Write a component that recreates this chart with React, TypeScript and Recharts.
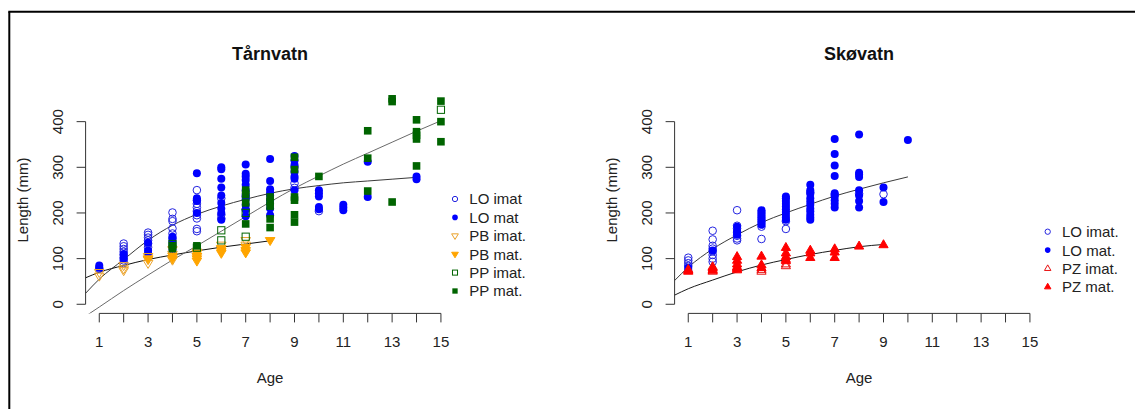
import React from 'react'
import { ComposedChart, Scatter, Line, XAxis, YAxis, ReferenceLine } from 'recharts'

const FONT = '"Liberation Sans", Arial, sans-serif'

const ageTicks = [1, 2, 3, 4, 5, 6, 7, 8, 9, 10, 11, 12, 13, 14, 15]
const lengthTicks = [0, 100, 200, 300, 400]

// Tårnvatn: [age, lengths at that age]
const taLoImat: [number, number[]][] = [
  [1, [78]], [2, [133, 127, 121, 115, 108, 102, 96, 90]], [3, [157, 152, 146, 140, 133, 125]],
  [4, [201, 187, 182, 166, 155, 145]], [5, [250, 228, 220, 212, 204, 195, 188, 165, 160]],
  [6, [232, 196, 188]], [7, [236, 208]], [9, [265, 255]], [10, [204]],
]
const taLoMat: [number, number[]][] = [
  [1, [85, 80]], [2, [110, 100]], [3, [135, 118, 112]], [4, [148, 141, 134, 126, 120]],
  [5, [287, 232, 226, 200]], [6, [300, 296, 275, 256, 238, 222, 210, 200, 185]],
  [7, [306, 286, 280, 272, 262, 250, 240, 230, 218, 207, 193]],
  [8, [318, 270, 252, 245, 238, 228, 220, 210, 195]], [9, [325, 315, 305, 300, 290, 280, 275, 250]],
  [10, [250, 243, 236, 213, 208]], [11, [218, 212, 206]], [12, [312, 235]], [14, [280, 274]],
]
const taPbImat: [number, number[]][] = [
  [1, [70, 62]], [2, [85, 78, 74]], [3, [105, 98, 90]], [4, [120, 110, 97]],
  [5, [115, 105]], [6, [130, 122]], [7, [140, 130]],
]
const taPbMat: [number, number[]][] = [
  [3, [100]], [4, [106, 100]], [5, [112, 106, 100, 95]], [6, [122, 116, 112]], [7, [125, 118, 113]], [8, [140]],
]
const taPpImat: [number, number[]][] = [[4, [132]], [5, [124]], [6, [162, 140]], [7, [200, 148]], [15, [426]]]
const taPpMat: [number, number[]][] = [
  [4, [128, 122]], [5, [128]], [7, [250, 240, 222, 176]], [8, [235, 225, 215, 187, 168]],
  [9, [322, 295, 235, 228, 196, 180]], [10, [280]], [12, [380, 320, 248]], [13, [450, 444, 224]],
  [14, [404, 378, 370, 362, 303]], [15, [445, 400, 356]],
]
const taLoCurve: [number, number][] = [
  [0.44, 24], [1, 55], [2, 98], [3, 140], [4, 173], [5, 197], [6, 215], [7, 230], [8, 243],
  [9, 253], [10, 260], [11, 266], [12, 270], [13, 274], [14, 278],
]
const taPbCurve: [number, number][] = [
  [0.44, 58], [1, 70], [2, 85], [3, 98], [4, 108], [5, 117], [6, 125], [7, 132], [8, 139],
]
const taPpCurve: [number, number][] = [
  [0.44, -26], [1, -6], [2, 30], [3, 64], [4, 97], [5, 128], [6, 160], [7, 192], [8, 224],
  [9, 254], [10, 281], [11, 307], [12, 331], [13, 355], [14, 379], [15, 402],
]

// Skøvatn
const skLoImat: [number, number[]][] = [
  [1, [102, 96, 90, 84]], [2, [161, 142, 128, 122, 116, 108, 100, 93]],
  [3, [206, 172, 166, 158, 150, 144, 140]], [4, [170, 143]], [5, [182, 165]],
  [6, [245]], [7, [240]], [8, [242]], [9, [241]],
]
const skLoMat: [number, number[]][] = [
  [1, [80, 75]], [2, [118]], [3, [170, 160, 152]], [4, [206, 202, 198, 194, 190, 186, 182, 178, 174]],
  [5, [236, 232, 226, 220, 214, 208, 202, 196, 190, 185]],
  [6, [262, 250, 242, 232, 225, 218, 210, 204, 196, 190, 185]],
  [7, [362, 329, 304, 281, 243, 236, 228, 220, 212]], [8, [372, 288, 284, 279, 250, 238, 226, 212]],
  [9, [256, 224]], [10, [360]],
]
const skPzImat: [number, number[]][] = [[1, [76]], [2, [82, 76, 72]], [3, [80]], [4, [76, 72]], [5, [88, 84]]]
const skPzMat: [number, number[]][] = [
  [1, [74, 72]], [2, [80, 74]], [3, [104, 96, 88, 82, 78, 75]], [4, [105, 86, 80]],
  [5, [124, 112, 104, 98, 95]], [6, [118, 112, 102]], [7, [121, 114, 102]], [8, [127]], [9, [130]],
]
const skLoCurve: [number, number][] = [
  [0.44, 52], [1, 81], [2, 121], [3, 152], [4, 179], [5, 200], [6, 219], [7, 237], [8, 252], [9, 266], [10, 279],
]
const skPzCurve: [number, number][] = [
  [0.44, 20], [1, 34], [2, 53], [3, 71], [4, 86], [5, 98], [6, 109], [7, 118], [8, 126], [9, 131],
]

const pts = (rows: [number, number[]][]) => rows.flatMap(([x, ys]) => ys.map((y) => ({ x, y })))
const line = (rows: [number, number][]) => rows.map(([x, y]) => ({ x, y }))

type Kind = 'oc' | 'fc' | 'odt' | 'fdt' | 'os' | 'fs' | 'out' | 'fut'

function Marker({ kind, cx, cy, color, s }: { kind: Kind; cx: number; cy: number; color: string; s: number }) {
  switch (kind) {
    case 'oc':
      return <circle cx={cx} cy={cy} r={s * 0.95} fill="none" stroke={color} strokeWidth={1} />
    case 'fc':
      return <circle cx={cx} cy={cy} r={s} fill={color} />
    case 'odt':
    case 'fdt': {
      const p = `${cx - s * 1.2},${cy - s * 0.7} ${cx + s * 1.2},${cy - s * 0.7} ${cx},${cy + s * 1.3}`
      return <polygon points={p} fill={kind === 'fdt' ? color : 'none'} stroke={color} strokeWidth={1} />
    }
    case 'out':
    case 'fut': {
      const p = `${cx - s * 1.15},${cy + s * 0.7} ${cx + s * 1.15},${cy + s * 0.7} ${cx},${cy - s * 1.3}`
      return <polygon points={p} fill={kind === 'fut' ? color : 'none'} stroke={color} strokeWidth={1} />
    }
    case 'os':
      return <rect x={cx - s * 0.9} y={cy - s * 0.9} width={s * 1.8} height={s * 1.8} fill="none" stroke={color} strokeWidth={1} />
    case 'fs':
      return <rect x={cx - s * 0.95} y={cy - s * 0.95} width={s * 1.9} height={s * 1.9} fill={color} />
  }
  return null
}

const XTick = (props: any) => {
  const { x, y, payload } = props
  if (payload.value % 2 === 0) return <g />
  return (
    <text x={x} y={y + 22.6} textAnchor="middle" fontSize={15} fill="#222" fontFamily={FONT}>
      {payload.value}
    </text>
  )
}

const YTick = (props: any) => {
  const { x, y, payload } = props
  const bx = x - 11.2
  return (
    <text x={bx} y={y} transform={`rotate(-90 ${bx} ${y})`} textAnchor="middle" fontSize={15} fill="#222" fontFamily={FONT}>
      {payload.value}
    </text>
  )
}

type Series = { name: string; data: { x: number; y: number }[]; kind: Kind; color: string }
type Curve = { name: string; data: { x: number; y: number }[]; color: string }

const X_MIN = 0.44
const X_MAX = 15.56
const Y_MIN = -20
const Y_MAX = 468

function Panel({ left, width, series, curves }: { left: number; width: number; series: Series[]; curves: Curve[] }) {
  const plotW = 369
  return (
    <div style={{ position: 'absolute', left, top: 0 }}>
      <ComposedChart
        width={width}
        height={409}
        margin={{ top: 90.6, right: width - 85.6 - plotW, bottom: 94.6, left: 84.6 }}
      >
        <XAxis
          type="number"
          dataKey="x"
          domain={[X_MIN, X_MAX]}
          allowDataOverflow
          ticks={ageTicks}
          interval={0}
          tick={<XTick />}
          tickSize={9}
          tickLine={{ stroke: '#333', strokeWidth: 1 }}
          axisLine={false}
          height={1}
        />
        <YAxis
          type="number"
          dataKey="y"
          domain={[Y_MIN, Y_MAX]}
          allowDataOverflow
          ticks={lengthTicks}
          interval={0}
          tick={<YTick />}
          tickSize={9}
          tickLine={{ stroke: '#333', strokeWidth: 1 }}
          axisLine={false}
          width={1}
        />
        <ReferenceLine segment={[{ x: 1, y: Y_MIN }, { x: 15, y: Y_MIN }]} stroke="#333" strokeWidth={1} ifOverflow="visible" />
        <ReferenceLine segment={[{ x: X_MIN, y: 0 }, { x: X_MIN, y: 400 }]} stroke="#333" strokeWidth={1} ifOverflow="visible" />
        {series.map((s) => (
          <Scatter
            key={s.name}
            name={s.name}
            data={s.data}
            isAnimationActive={false}
            shape={(p: any) => <Marker kind={s.kind} cx={p.cx} cy={p.cy} color={s.color} s={4} />}
          />
        ))}
        {curves.map((c) => (
          <Line
            key={c.name}
            name={c.name}
            data={c.data}
            dataKey="y"
            type="monotone"
            stroke={c.color}
            strokeWidth={1}
            dot={false}
            activeDot={false}
            isAnimationActive={false}
          />
        ))}
      </ComposedChart>
    </div>
  )
}

const BLUE = '#0000ff'
const BLUE_OPEN = '#2424e0'
const ORANGE = '#ffa500'
const ORANGE_OPEN = '#eaa22a'
const GREEN = '#006400'
const RED = '#ff0000'

const taSeries: Series[] = [
  { name: 'LO imat', data: pts(taLoImat), kind: 'oc', color: BLUE_OPEN },
  { name: 'LO mat', data: pts(taLoMat), kind: 'fc', color: BLUE },
  { name: 'PB imat.', data: pts(taPbImat), kind: 'odt', color: ORANGE_OPEN },
  { name: 'PB mat.', data: pts(taPbMat), kind: 'fdt', color: ORANGE },
  { name: 'PP imat.', data: pts(taPpImat), kind: 'os', color: GREEN },
  { name: 'PP mat.', data: pts(taPpMat), kind: 'fs', color: GREEN },
]
const skSeries: Series[] = [
  { name: 'LO imat.', data: pts(skLoImat), kind: 'oc', color: BLUE_OPEN },
  { name: 'LO mat.', data: pts(skLoMat), kind: 'fc', color: BLUE },
  { name: 'PZ imat.', data: pts(skPzImat), kind: 'out', color: '#e81010' },
  { name: 'PZ mat.', data: pts(skPzMat), kind: 'fut', color: RED },
]
const taCurves: Curve[] = [
  { name: 'LO fit', data: line(taLoCurve), color: '#3a3a3a' },
  { name: 'PB fit', data: line(taPbCurve), color: '#111' },
  { name: 'PP fit', data: line(taPpCurve), color: '#6a6a6a' },
]
const skCurves: Curve[] = [
  { name: 'LO fit', data: line(skLoCurve), color: '#3a3a3a' },
  { name: 'PZ fit', data: line(skPzCurve), color: '#1a1a1a' },
]

function LegendBox({ x, y, items }: { x: number; y: number; items: Series[] }) {
  return (
    <g>
      {items.map((it, i) => {
        const cy = y + i * 18.4
        return (
          <g key={it.name}>
            <Marker kind={it.kind} cx={x} cy={cy} color={it.color} s={2.8} />
            <text x={x + 14.3} y={cy + 5.4} fontSize={15} fill="#222" fontFamily={FONT}>
              {it.name}
            </text>
          </g>
        )
      })}
    </g>
  )
}

export default function App() {
  return (
    <div style={{ position: 'absolute', left: 0, top: 0, width: 1135, height: 409, overflow: 'hidden', background: '#fff' }}>
      <Panel left={0} width={560} series={taSeries} curves={taCurves} />
      <Panel left={589.4} width={545.6} series={skSeries} curves={skCurves} />
      <svg width={1135} height={409} style={{ position: 'absolute', left: 0, top: 0, pointerEvents: 'none' }}>
        <line x1={9.3} y1={11.7} x2={9.3} y2={409} stroke="#000" strokeWidth={2} />
        <line x1={8.3} y1={11.7} x2={1135} y2={11.7} stroke="#000" strokeWidth={2} />
        <text x={270} y={59.5} textAnchor="middle" fontSize={18} fontWeight="bold" fill="#111" fontFamily={FONT}>Tårnvatn</text>
        <text x={859} y={59.5} textAnchor="middle" fontSize={18} fontWeight="bold" fill="#111" fontFamily={FONT}>Skøvatn</text>
        <text x={270} y={383.4} textAnchor="middle" fontSize={15} fill="#222" fontFamily={FONT}>Age</text>
        <text x={859} y={383.4} textAnchor="middle" fontSize={15} fill="#222" fontFamily={FONT}>Age</text>
        <text x={28.4} y={200} transform="rotate(-90 28.4 200)" textAnchor="middle" fontSize={15} fill="#222" fontFamily={FONT}>Length (mm)</text>
        <text x={617.4} y={200} transform="rotate(-90 617.4 200)" textAnchor="middle" fontSize={15} fill="#222" fontFamily={FONT}>Length (mm)</text>
        <LegendBox x={455} y={199} items={taSeries} />
        <LegendBox x={1047.7} y={231.7} items={skSeries} />
      </svg>
    </div>
  )
}
